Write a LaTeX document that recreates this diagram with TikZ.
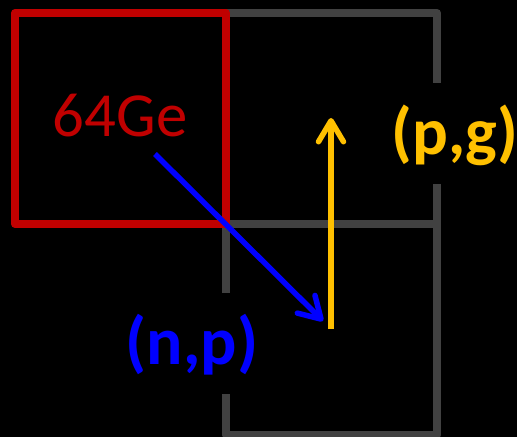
\documentclass[tikz,border=0pt]{standalone}
\usepackage{fontspec}
\setmainfont{Carlito}
\usetikzlibrary{arrows.meta}
\definecolor{cred}{HTML}{C00000}
\definecolor{corange}{HTML}{FFC000}
\definecolor{cblue}{HTML}{0000FF}
\definecolor{cgray}{HTML}{414141}
\tikzset{
  grayline/.style={draw=cgray,line width=8bp,line join=round},
  redbox/.style={draw=cred,line width=8bp,line join=round},
  arr/.style={line width=5.5bp,-{Straight Barb[length=21bp,width=25bp,round]}},
  lbl/.style={inner sep=0pt,font=\fontsize{63}{70}\selectfont}
}
\begin{document}
\begin{tikzpicture}[x=1bp,y=-1bp]
\fill[black] (0,0) rectangle (517,437);
\useasboundingbox (0,0) rectangle (517,437);
% gray squares
\draw[grayline] (226,13) -- (437,13) -- (437,83);
\draw[grayline] (437,184) -- (437,435) -- (226,435) -- (226,394);
\draw[grayline] (226,293) -- (226,224) -- (437,224);
% red square
\draw[redbox] (15,13) rectangle (226,224);
% labels
\node[lbl,text=cred,anchor=base] (ge) at (120,137) {64Ge};
\node[lbl,text=corange,anchor=center,font=\fontsize{67}{70}\selectfont\bfseries] (pg) at (455,135) {(p,g)};
\node[lbl,text=cblue,anchor=center,font=\fontsize{68}{70}\selectfont\bfseries] (np) at (192,345) {(n,p)};
% arrows
\coordinate (bs) at (155,154);
\coordinate (be) at (323,321);
\coordinate (ys) at (331,329);
\coordinate (ye) at (331,118);
\draw[arr,draw=cblue] (bs) -- (be);
\draw[arr,draw=corange] (ys) -- (ye);
\end{tikzpicture}
\end{document}
